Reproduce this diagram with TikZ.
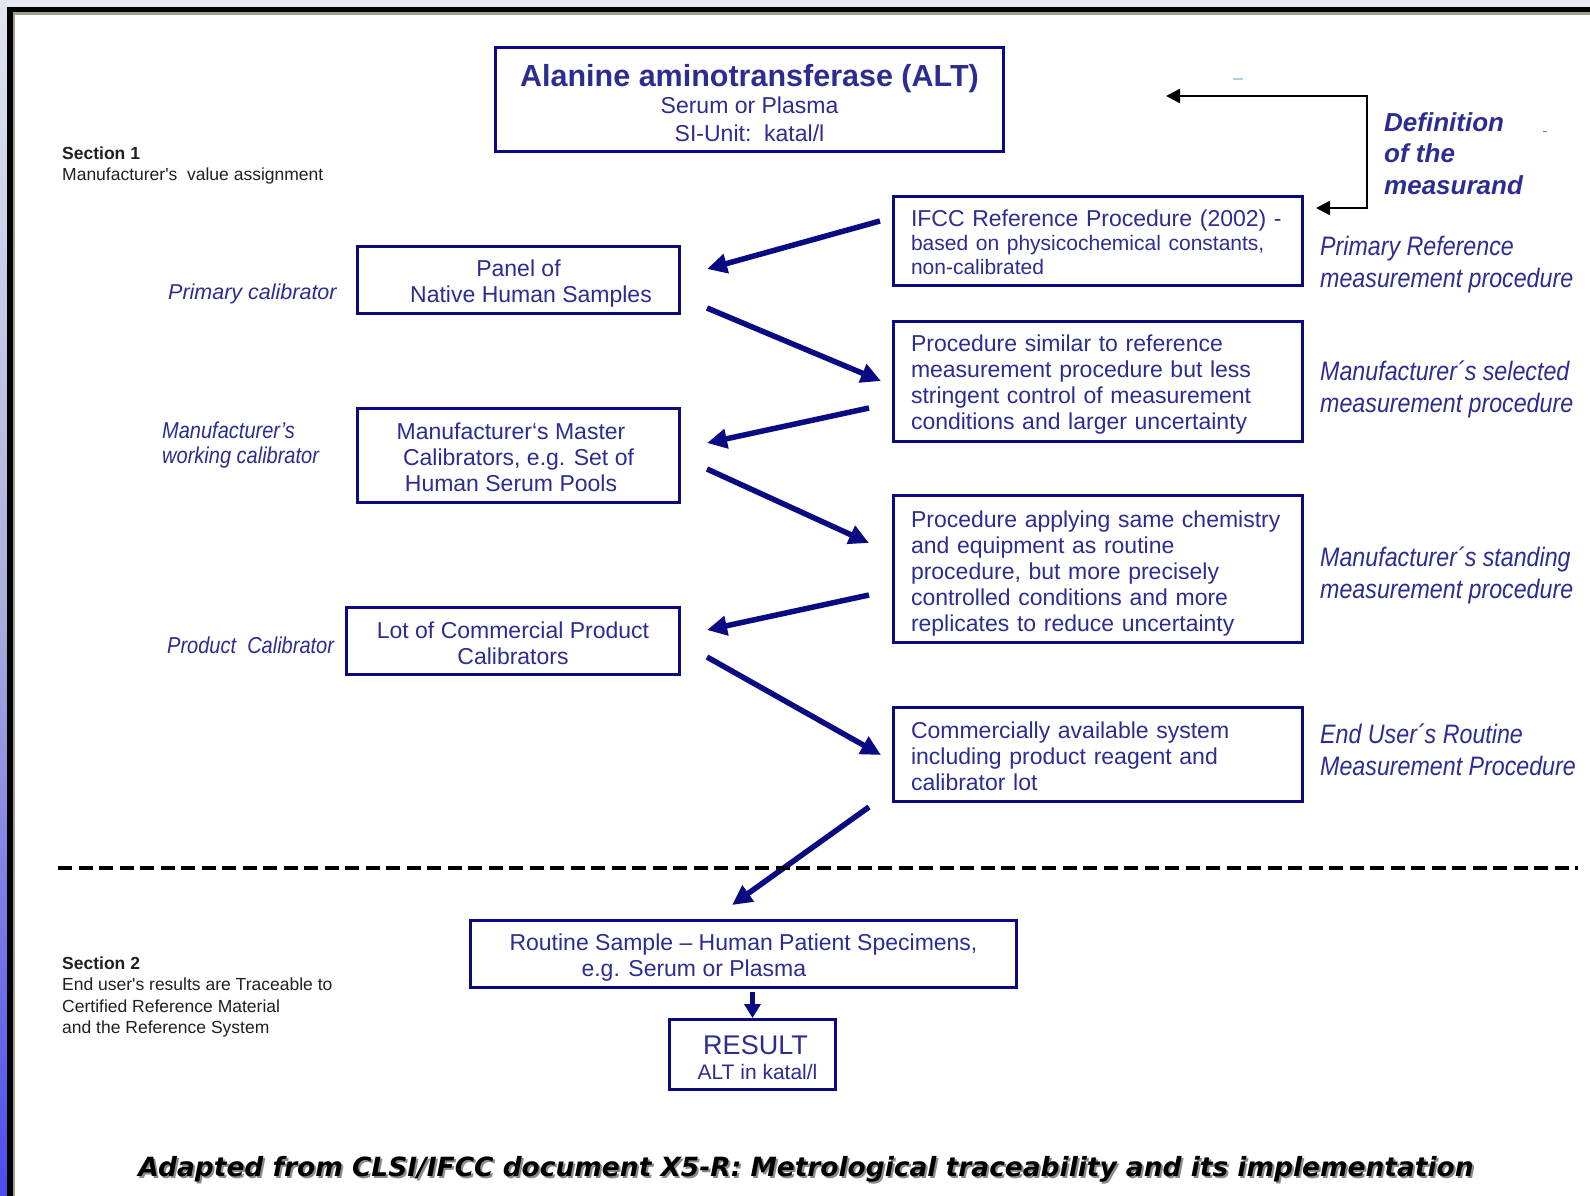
\documentclass[tikz,border=0pt]{standalone}
\usepackage{fontspec}
\setmainfont{Liberation Sans}
\newfontfamily\narrowit{Liberation Sans}[FakeStretch=0.87]
\newfontfamily\capfont{DejaVu Sans}
\usetikzlibrary{arrows.meta}
\definecolor{navy}{HTML}{0A0A82}
\definecolor{txtblue}{HTML}{2C2C92}
\definecolor{sectxt}{HTML}{202020}
\definecolor{framegrey}{HTML}{A09F8C}
\definecolor{topstrip}{HTML}{E8EAF3}
\definecolor{stripTop}{HTML}{E2E4F1}
\definecolor{stripMid}{HTML}{ABAFDC}
\definecolor{stripBot}{HTML}{4C4CEE}
\definecolor{cyanmark}{HTML}{A4D6DE}
\newcommand{\tstrut}[1]{\rule{0pt}{#1}}
\begin{document}
\begin{tikzpicture}[x=1pt,y=-1pt,
  bluebox/.style={draw=navy, line width=3pt, text=txtblue, inner sep=0pt},
  rbox/.style={bluebox, minimum width=409pt, text width=374pt, inner xsep=17.5pt, align=left, font=\fontsize{23}{26}\selectfont},
  lbox/.style={bluebox, align=center, font=\fontsize{23}{26}\selectfont},
  arr/.style={draw=navy, line width=5.5pt, -{Triangle[length=20pt,width=19pt]}},
  deflink/.style={draw=black, line width=2.5pt, {Triangle[length=14pt,width=14pt]}-{Triangle[length=14pt,width=14pt]}},
  rlbl/.style={text=txtblue, align=left, anchor=west, inner sep=0pt, font=\narrowit\itshape\fontsize{26.7}{32}\selectfont},
  llbl/.style={text=txtblue, align=left, anchor=west, inner sep=0pt, font=\narrowit\itshape\fontsize{23}{25}\selectfont},
  sect/.style={text=sectxt, align=left, anchor=west, inner sep=0pt, font=\fontsize{17.5}{21.3}\selectfont},
  capstyle/.style={inner sep=0pt, font=\capfont\fontsize{26.45}{30}\selectfont\bfseries\itshape}
]
\useasboundingbox (0,0) rectangle (1590,1196);
% frame
\fill[white] (0,0) rectangle (1590,1196);
\fill[topstrip] (0,0) rectangle (1590,7);
\shade[top color=stripTop, bottom color=stripBot, middle color=stripMid] (0,0) rectangle (7,1196);
\fill[black] (7,7) rectangle (1590,12.5);
\fill[black] (7,7) rectangle (12.5,1196);
\fill[framegrey] (12.5,12.5) rectangle (1590,15);
\fill[framegrey] (12.5,12.5) rectangle (15,1196);
\fill[cyanmark] (1233,78) rectangle (1243,80.5);
\fill[gray] (1543,131) rectangle (1547,132.5);

% top box
\node[lbox, minimum width=508pt, minimum height=104pt, font=\fontsize{23}{27.5}\selectfont] (alt) at (749.5,99.5)
  {\tstrut{28.5pt}{\fontsize{30.5}{32}\selectfont\bfseries Alanine aminotransferase (ALT)}\\Serum or Plasma\\SI-Unit:\ \ katal/l};

% right column boxes
\node[rbox, minimum height=89pt, font=\fontsize{23}{24}\selectfont] (ifcc) at (1098,241)
  {\tstrut{19pt}\mbox{IFCC Reference Procedure (2002) -}\\{\fontsize{21}{24}\selectfont\mbox{based on physicochemical constants,}}\\{\fontsize{21}{24}\selectfont\mbox{non-calibrated}}};
\node[rbox, minimum height=120pt] (similar) at (1098,381.5)
  {\tstrut{23pt}\mbox{Procedure similar to reference}\\\mbox{measurement procedure but less}\\\mbox{stringent control of measurement}\\\mbox{conditions and larger uncertainty}};
\node[rbox, minimum height=147pt] (applying) at (1098,569)
  {\tstrut{25pt}\mbox{Procedure applying same chemistry}\\\mbox{and equipment as routine}\\\mbox{procedure, but more precisely}\\\mbox{controlled conditions and more}\\\mbox{replicates to reduce uncertainty}};
\node[rbox, minimum height=94pt] (commercial) at (1098,754.5)
  {\tstrut{21pt}\mbox{Commercially available system}\\\mbox{including product reagent and}\\\mbox{calibrator lot}};

% left column boxes
\node[lbox, minimum width=322pt, minimum height=67pt] (panel) at (518.5,280)
  {\tstrut{24pt}Panel of\\\hspace*{25pt}Native Human Samples};
\node[lbox, minimum width=322pt, minimum height=94pt] (master) at (518.5,455.5)
  {\tstrut{21pt}Manufacturer‘s Master\hspace*{15pt}\\Calibrators, e.g. Set of\hspace*{15pt}\\Human Serum Pools\hspace*{15pt}};
\node[lbox, minimum width=333pt, minimum height=67pt] (lot) at (513,641)
  {\tstrut{21pt}Lot of Commercial Product\\Calibrators};

% bottom boxes
\node[lbox, align=left, minimum width=546pt, minimum height=67pt] (routine) at (743.5,954)
  {\tstrut{23pt}Routine Sample -- Human Patient Specimens,\\\hspace*{72pt}e.g. Serum or Plasma};
\node[lbox, minimum width=166pt, minimum height=70pt, font=\fontsize{21}{25}\selectfont] (result) at (752.5,1054.5)
  {\tstrut{25.5pt}\hspace*{6pt}{\fontsize{27}{27}\selectfont RESULT}\\\hspace*{10pt}ALT in katal/l};

% left labels
\node[text=txtblue, anchor=west, inner sep=0pt, font=\fontsize{21.5}{25}\selectfont\itshape] (lprim) at (168,294) {Primary calibrator};
\node[llbl] (lwork) at (162,445.5) {Manufacturer’s\\working calibrator};
\node[llbl] (lprod) at (167,645) {Product\ \ Calibrator};

% right labels
\node[rlbl, font=\fontsize{26}{31.5}\selectfont\bfseries\itshape] (ldef) at (1384,153.5) {Definition\\of the\\measurand};
\node[rlbl] (lpref) at (1320,265) {Primary Reference\\measurement procedure};
\node[rlbl] (lsel) at (1320,389) {Manufacturer´s selected\\measurement procedure};
\node[rlbl] (lstand) at (1320,575.5) {Manufacturer´s standing\\measurement procedure};
\node[rlbl] (lend) at (1320,749.5) {End User´s Routine\\Measurement Procedure};

% section texts
\node[sect] (sec1) at (62,165.5) {\textbf{Section 1}\\Manufacturer\textquotesingle s\ \ value assignment};
\node[sect] (sec2) at (62,997) {\textbf{Section 2}\\End user\textquotesingle s results are Traceable to\\Certified Reference Material\\and the Reference System};

% caption
\node[capstyle, text=black!45] (capshadow) at (808,1171) {Adapted from CLSI/IFCC document X5-R: Metrological traceability and its implementation};
\node[capstyle, text=black] (caption) at (806,1169) {Adapted from CLSI/IFCC document X5-R: Metrological traceability and its implementation};

% arrow end points
\coordinate (a1s) at (880,221);  \coordinate (a1e) at (707,269);
\coordinate (a2s) at (707,308);  \coordinate (a2e) at (881,381);
\coordinate (a3s) at (869,408);  \coordinate (a3e) at (707,443);
\coordinate (a4s) at (707,469);  \coordinate (a4e) at (869,543);
\coordinate (a5s) at (869,595);  \coordinate (a5e) at (707,630);
\coordinate (a6s) at (707,657);  \coordinate (a6e) at (881,755);
\coordinate (a7s) at (869,807);  \coordinate (a7e) at (732,905);
\draw[arr] (a1s) -- (a1e);
\draw[arr] (a2s) -- (a2e);
\draw[arr] (a3s) -- (a3e);
\draw[arr] (a4s) -- (a4e);
\draw[arr] (a5s) -- (a5e);
\draw[arr] (a6s) -- (a6e);
\draw[arr] (a7s) -- (a7e);
\draw[arr, -{Triangle[length=14pt,width=16pt]}] (routine.south -| result.north) ++(0,3) coordinate (rstart) -- (result.north);

% definition connector
\coordinate (defA) at (1166,96);
\coordinate (defC1) at (1367,96);
\coordinate (defC2) at (1367,208);
\coordinate (defB) at (1316,208);
\draw[deflink] (defA) -- (defC1) -- (defC2) -- (defB);

% dashed separator
\coordinate (dl) at (58,868);
\coordinate (dr) at (1578,868);
\draw[black, line width=4pt, dash pattern=on 14pt off 6.5pt] (dl) -- (dr);
\end{tikzpicture}
\end{document}
